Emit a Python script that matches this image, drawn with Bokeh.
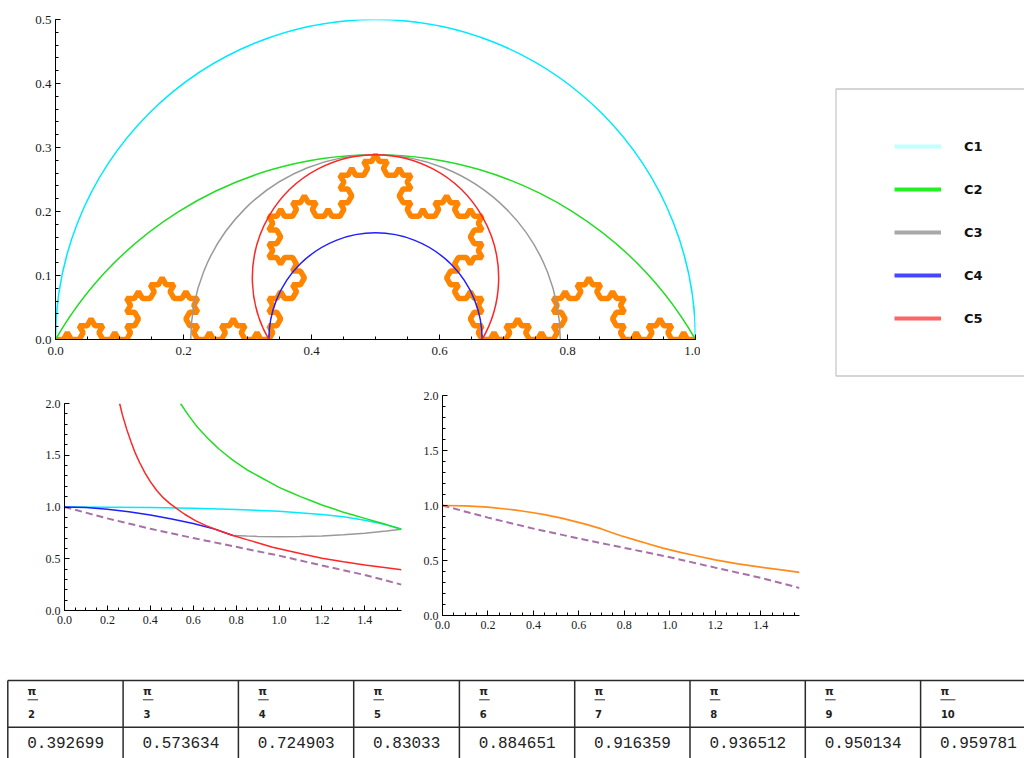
import numpy as np
from bokeh.plotting import figure
from bokeh.models import Range1d, SingleIntervalTicker, PrintfTickFormatter, Legend, LegendItem
from bokeh.layouts import column, row
from bokeh.embed import file_html
from bokeh.resources import INLINE
from bokeh.core.properties import value

# ------------------------------------------------------------------ data
# top panel: circular arcs (centre, radius, angular extent in degrees)
circle_names = ["C1", "C2", "C3", "C4", "C5"]
circle_cx = [0.5, 0.5, 0.5, 0.5, 0.5]
circle_cy = [0.0, -0.288675, 0.0, 0.0, 0.096225]
circle_r = [0.5, 0.57735, 0.288675, 0.166667, 0.19245]
circle_start_deg = [0, 30, 0, 0, -30]
circle_end_deg = [180, 150, 180, 180, 210]

# Koch curve between two end points, iteration depth
koch_start = (0.0, 0.0)
koch_end = (1.0, 0.0)
koch_level = 4

# bottom-left panel (angle theta on x)
theta_max = np.pi / 2
c1_x = [0.0, 0.2, 0.4, 0.6, 0.8, 1.0, 1.2, 1.3, 1.4, 1.5, 1.5708]
c1_y = [1.0, 0.998, 0.994, 0.987, 0.976, 0.958, 0.928, 0.905, 0.872, 0.828, 0.785]
c2_x = [0.541, 0.56, 0.58, 0.60, 0.62, 0.645, 0.67, 0.695, 0.72, 0.75, 0.78, 0.815, 0.85,
        0.885, 0.92, 0.96, 1.0, 1.05, 1.1, 1.15, 1.2, 1.25, 1.3, 1.35, 1.4, 1.45, 1.5, 1.5708]
c2_y = [2.0, 1.94, 1.88, 1.825, 1.77, 1.715, 1.66, 1.61, 1.56, 1.51, 1.46, 1.41, 1.36,
        1.32, 1.28, 1.235, 1.19, 1.145, 1.10, 1.06, 1.02, 0.985, 0.95, 0.92, 0.89, 0.86, 0.83, 0.785]
c3_x = [0.785, 0.85, 0.9, 1.0, 1.1, 1.2, 1.3, 1.4, 1.5, 1.5708]
c3_y = [0.725, 0.719, 0.716, 0.713, 0.714, 0.72, 0.731, 0.747, 0.767, 0.785]
c4_x = [0.0, 0.1, 0.2, 0.3, 0.4, 0.5, 0.6, 0.7, 0.785]
c4_y = [1.0, 0.995, 0.979, 0.955, 0.922, 0.884, 0.84, 0.786, 0.725]
c5_x = [0.257, 0.27, 0.29, 0.31, 0.33, 0.35, 0.375, 0.4, 0.43, 0.46, 0.49, 0.517, 0.56,
        0.61, 0.66, 0.7, 0.785, 0.85, 0.9, 0.97, 1.047, 1.12, 1.2, 1.3, 1.4, 1.5, 1.5708]
c5_y = [2.0, 1.89, 1.75, 1.63, 1.52, 1.43, 1.33, 1.245, 1.16, 1.09, 1.035, 0.993, 0.93,
        0.868, 0.82, 0.787, 0.725, 0.685, 0.655, 0.612, 0.574, 0.541, 0.505, 0.47, 0.44, 0.413, 0.393]
ref_x = [0.0, 0.2, 0.4, 0.6, 0.8, 1.0, 1.2, 1.4, 1.5708]
ref_y = [1.0, 0.89, 0.79, 0.70, 0.615, 0.53, 0.435, 0.343, 0.25]

# table: theta = pi/n and the best value
table_denoms = [2, 3, 4, 5, 6, 7, 8, 9, 10]
table_values = ["0.392699", "0.573634", "0.724903", "0.83033", "0.884651",
                "0.916359", "0.936512", "0.950134", "0.959781"]

# bottom-right panel: best curve = table points plus extra readings
best_extra_x = [0.0, 0.1, 0.2, 0.7, 0.74, 0.85, 0.9, 0.97, 1.12, 1.2, 1.3, 1.4, 1.5]
best_extra_y = [1.0, 0.997, 0.986, 0.787, 0.757, 0.685, 0.655, 0.612, 0.541, 0.505, 0.47, 0.44, 0.413]

# ------------------------------------------------------------------ styles
arc_colors = ["#00eaff", "#22dd22", "#9a9a9a", "#1f1fff", "#ff2626"]
legend_colors = ["#c4ffff", "#22f022", "#a8a8a8", "#4646ff", "#ff6464"]
ORANGE = "#ff8400"
DASH = "#a870a8"
SERIF = "Liberation Serif"


def style_axes(p, xint, xminor, yint, yminor, fs, xstand=5):
    p.xaxis.ticker = SingleIntervalTicker(interval=xint, num_minor_ticks=xminor)
    p.yaxis.ticker = SingleIntervalTicker(interval=yint, num_minor_ticks=yminor)
    for ax in p.axis:
        ax.formatter = PrintfTickFormatter(format="%.1f")
        ax.axis_line_color = "black"
        ax.axis_line_width = 1
        ax.major_tick_line_color = "black"
        ax.minor_tick_line_color = "black"
        ax.major_tick_in = 5
        ax.major_tick_out = 0
        ax.minor_tick_in = 3
        ax.minor_tick_out = 0
        ax.major_label_text_font = SERIF
        ax.major_label_text_font_size = fs
        ax.major_label_text_color = "#1a1a1a"
    p.xaxis.major_label_standoff = xstand
    p.yaxis.major_label_standoff = 4
    p.grid.visible = False
    p.outline_line_color = None
    p.background_fill_color = "white"
    p.border_fill_color = "white"


def bare(p):
    p.grid.visible = False
    p.outline_line_color = None
    p.background_fill_color = "white"
    p.border_fill_color = "white"


def koch_points(a, b, level):
    pts = [np.array(a, float), np.array(b, float)]
    c, s = np.cos(np.pi / 3), np.sin(np.pi / 3)
    for _ in range(level):
        new = [pts[0]]
        for p0, p1 in zip(pts[:-1], pts[1:]):
            d = (p1 - p0) / 3.0
            q1 = p0 + d
            q2 = p0 + 2 * d
            peak = q1 + np.array([d[0] * c - d[1] * s, d[0] * s + d[1] * c])
            new += [q1, peak, q2, p1]
        pts = new
    arr = np.array(pts)
    return arr[:, 0], arr[:, 1]


# ------------------------------------------------------------------ top panel
top = figure(width=700, height=385, x_range=Range1d(0, 1), y_range=Range1d(0, 0.5),
             output_backend="svg", toolbar_location=None,
             min_border_left=55, min_border_right=5, min_border_top=19, min_border_bottom=46)
style_axes(top, 0.2, 4, 0.1, 5, "13px", xstand=7)

kx, ky = koch_points(koch_start, koch_end, koch_level)
top.line(kx, ky, line_color=ORANGE, line_width=5.5, line_join="bevel")

for i in range(len(circle_names)):
    top.arc(x=[circle_cx[i]], y=[circle_cy[i]], radius=circle_r[i],
            start_angle=circle_start_deg[i], end_angle=circle_end_deg[i],
            start_angle_units="deg", end_angle_units="deg",
            line_color=arc_colors[i], line_width=1.5)

# ------------------------------------------------------------------ legend panel
LW, LH = 324, 385
leg = figure(width=LW, height=LH, x_range=Range1d(0, LW), y_range=Range1d(0, LH),
             output_backend="svg", toolbar_location=None,
             x_axis_location=None, y_axis_location=None, min_border=0)
bare(leg)
# legend frame (right side runs past the page edge, as in the reference)
leg.quad(left=[135.5], right=[LW + 20], bottom=[9.5], top=[296.5],
         fill_color="white", line_color="#c8c8c8", line_width=1.3)
items = []
for name, col in zip(circle_names, legend_colors):
    r = leg.line(x=[-20.0, -10.0], y=[-20.0, -20.0], line_color=col, line_width=4)
    items.append(LegendItem(label=name, renderers=[r]))
legend = Legend(items=items, location=(148, 11), padding=45, spacing=23,
                glyph_width=47, glyph_height=20, label_standoff=23, margin=0,
                border_line_color="white", border_line_width=1,
                background_fill_alpha=0.0,
                label_text_font="DejaVu Sans", label_text_font_style="bold",
                label_text_font_size="13px", label_text_color="#111111")
leg.add_layout(legend)

# ------------------------------------------------------------------ bottom-left
bl = figure(width=408, height=258, x_range=Range1d(0, theta_max), y_range=Range1d(0, 2),
            output_backend="svg", toolbar_location=None,
            min_border_left=64, min_border_right=7, min_border_top=18, min_border_bottom=33)
style_axes(bl, 0.2, 4, 0.5, 5, "12px")
bl.line(ref_x, ref_y, line_color=DASH, line_width=2, line_dash="7 4")
bl.line(c3_x, c3_y, line_color=arc_colors[2], line_width=1.5)
bl.line(c1_x, c1_y, line_color=arc_colors[0], line_width=1.5)
bl.line(c2_x, c2_y, line_color=arc_colors[1], line_width=1.5)
bl.line(c4_x, c4_y, line_color=arc_colors[3], line_width=1.5)
bl.line(c5_x, c5_y, line_color=arc_colors[4], line_width=1.5)

# ------------------------------------------------------------------ bottom-right
pts = [(np.pi / n, float(v)) for n, v in zip(table_denoms, table_values)]
pts += list(zip(best_extra_x, best_extra_y))
pts.sort()
best_x = [p[0] for p in pts]
best_y = [p[1] for p in pts]

br = figure(width=420, height=258, x_range=Range1d(0, theta_max), y_range=Range1d(0, 2),
            output_backend="svg", toolbar_location=None,
            min_border_left=34, min_border_right=29, min_border_top=10, min_border_bottom=28)
style_axes(br, 0.2, 4, 0.5, 5, "12px")
br.line(ref_x, ref_y, line_color=DASH, line_width=2, line_dash="7 4")
br.line(best_x, best_y, line_color="#ff8c1a", line_width=1.7)

# ------------------------------------------------------------------ table
TW, TH = 1024, 115
tbl = figure(width=TW, height=TH, x_range=Range1d(0, TW), y_range=Range1d(TH, 0),
             output_backend="svg", toolbar_location=None,
             x_axis_location=None, y_axis_location=None, min_border=0)
bare(tbl)

col_left = [7.3]
for v in table_values[:-1]:
    col_left.append(col_left[-1] + 38.5 + 9.6 * len(v))
row_top, row_mid = 37.0, 83.7
LINE = "#2b2b2b"
tbl.segment(x0=[col_left[0]] * 2, y0=[row_top, row_mid], x1=[TW, TW], y1=[row_top, row_mid],
            line_color=LINE, line_width=1.5)
tbl.segment(x0=col_left, y0=[row_top] * len(col_left), x1=col_left, y1=[TH] * len(col_left),
            line_color=LINE, line_width=1.5)

tx = [c + 19.8 for c in col_left]
den_txt = [str(d) for d in table_denoms]
bar_w = [10.5 if len(s) == 1 else 15.0 for s in den_txt]
tbl.text(x=tx, y=[48] * len(tx), text=["π"] * len(tx), text_font=value("DejaVu Sans"),
         text_font_style="bold", text_font_size="11px", text_baseline="middle",
         text_align="left", text_color="#222222")
tbl.segment(x0=tx, y0=[56.3] * len(tx), x1=[a + w for a, w in zip(tx, bar_w)], y1=[56.3] * len(tx),
            line_color="#333333", line_width=1)
tbl.text(x=[a + 0.5 for a in tx], y=[70] * len(tx), text=den_txt, text_font=value("DejaVu Sans"),
         text_font_style="bold", text_font_size="10px", text_baseline="middle",
         text_align="left", text_color="#222222")
tbl.text(x=[c + 19.4 for c in col_left], y=[98.7] * len(tx), text=table_values,
         text_font=value("Liberation Mono"), text_font_size="16px", text_baseline="middle",
         text_align="left", text_color="#222222")

layout = column(row(column(top), column(leg)), row(column(bl), column(br)), row(tbl))
open("out.html", "w").write(file_html(layout, INLINE))
